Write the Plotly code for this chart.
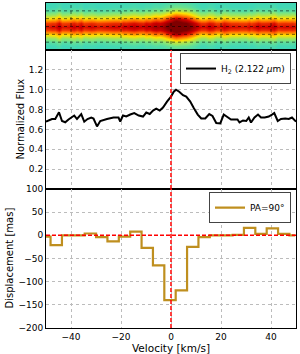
import plotly.graph_objects as go
from plotly.subplots import make_subplots

# ---- data ----
FLUX_VEL = [-50.0, -48.9, -47.6, -46.3, -44.8, -43.6, -42.3, -41.0, -39.6, -38.7, -37.6, -35.9,
            -34.7, -33.4, -31.9, -31.0, -29.6, -28.3, -25.6, -23.0, -21.0, -20.3, -19.2, -17.9,
            -16.3, -14.7, -12.9, -11.2, -9.9, -8.5, -7.2, -5.9, -4.5, -3.2, -1.6, 0.0, 1.1, 2.0,
            3.3, 4.8, 6.1, 7.7, 9.1, 10.7, 12.1, 13.7, 15.3, 16.6, 18.1, 19.7, 21.1, 22.7, 24.0,
            25.3, 26.6, 27.4, 28.8, 30.1, 31.1, 32.0, 33.4, 34.8, 36.0, 37.5, 39.1, 40.4, 41.3,
            42.7, 44.0, 45.7, 47.1, 48.4, 50.0]
FLUX = [0.678, 0.688, 0.705, 0.705, 0.773, 0.685, 0.672, 0.70, 0.73, 0.74, 0.705, 0.754,
        0.678, 0.705, 0.72, 0.71, 0.63, 0.685, 0.705, 0.72, 0.72, 0.68, 0.74, 0.73,
        0.75, 0.765, 0.74, 0.73, 0.77, 0.755, 0.79, 0.81, 0.79, 0.82, 0.88, 0.93, 0.98, 1.0,
        0.98, 0.945, 0.93, 0.88, 0.815, 0.75, 0.71, 0.71, 0.755, 0.735, 0.665, 0.66, 0.75, 0.72, 0.70,
        0.70, 0.70, 0.67, 0.69, 0.685, 0.72, 0.67, 0.72, 0.75, 0.72, 0.72, 0.73, 0.75, 0.765,
        0.685, 0.705, 0.71, 0.705, 0.72, 0.678]

DISP_VEL = [-50.45, -45.9, -41.35, -36.8, -32.25, -27.7, -23.15, -18.6, -14.05, -9.5, -4.95,
            -0.4, 4.15, 8.7, 13.25, 17.8, 22.35, 26.9, 31.45, 36.0, 40.55, 45.1, 49.65]
DISP = [-3, -21, 0, 0, 4, -4, -13, -3, 8, -27, -65, -140, -119, -25, -4, 0, 0, 1, 16, 3, 15, 3, 0]

SPATIAL = [-3.0, -2.5, -2.0, -1.5, -1.0, -0.5, 0.0, 0.5, 1.0, 1.5, 2.0, 2.5, 3.0]
CONT_PROFILE = [0.41, 0.41, 0.44, 0.53, 0.67, 0.83, 0.88, 0.83, 0.67, 0.53, 0.44, 0.41, 0.41]
LINE_PROFILE = [0.03, 0.07, 0.15, 0.24, 0.28, 0.22, 0.20, 0.22, 0.28, 0.24, 0.15, 0.07, 0.03]
FLUX_CONT_LEVEL = 0.69

X_TICKS = [-40, -20, 0, 20, 40]
FLUX_TICKS = [0.2, 0.4, 0.6, 0.8, 1.0, 1.2]
DISP_TICKS = [-200, -150, -100, -50, 0, 50, 100]
IMG_GRID_Y = [-2, -1, 0, 1, 2]

# image built from the spatial profiles and the spectrum
strength = [max(0.0, (f - FLUX_CONT_LEVEL) / (1.0 - FLUX_CONT_LEVEL)) for f in FLUX]
Z = [[c + l * s for s in strength] for c, l in zip(CONT_PROFILE, LINE_PROFILE)]

jet = [[0.0, 'rgb(0,0,127)'], [0.11, 'rgb(0,0,255)'], [0.35, 'rgb(20,205,225)'],
       [0.5, 'rgb(130,230,120)'], [0.65, 'rgb(255,225,0)'], [0.8, 'rgb(255,90,0)'],
       [0.9, 'rgb(210,0,0)'], [1.0, 'rgb(127,0,0)']]

ROW_HEIGHTS = [47, 139, 139]
fig = make_subplots(rows=3, cols=1, shared_xaxes=True, vertical_spacing=0,
                    row_heights=ROW_HEIGHTS)

fig.add_trace(go.Heatmap(x=FLUX_VEL, y=SPATIAL, z=Z, colorscale=jet, zmin=0, zmax=1,
                         zsmooth='best', showscale=False, hoverinfo='skip'), row=1, col=1)

fig.add_trace(go.Scatter(x=FLUX_VEL, y=FLUX, mode='lines', name='H<sub>2</sub> (2.122 <i>μ</i>m)',
                         line=dict(color='black', width=2), legend='legend'), row=2, col=1)

fig.add_trace(go.Scatter(x=DISP_VEL, y=DISP, mode='lines', name='PA=90°', line_shape='hvh',
                         line=dict(color='#BF8F1F', width=2.2), legend='legend2'), row=3, col=1)

axis_common = dict(showline=True, mirror=True, linecolor='black', linewidth=1,
                   ticks='', zeroline=False, automargin=False)
grid = dict(showgrid=True, gridcolor='#bcbcbc', griddash='dot', gridwidth=1)

fig.update_xaxes(range=[-50, 50], tickvals=X_TICKS, **axis_common)
fig.update_xaxes(showgrid=False, showticklabels=False, row=1, col=1)
fig.update_xaxes(showticklabels=False, **grid, row=2, col=1)
fig.update_xaxes(showticklabels=True, **grid, row=3, col=1,
                 ticktext=['\u221240', '\u221220', '0', '20', '40'],
                 tickfont=dict(size=9), title=dict(text='Velocity [km/s]', font=dict(size=10.5), standoff=0))

fig.update_yaxes(range=[-3, 3], showticklabels=False, showgrid=False, **axis_common, row=1, col=1)
fig.update_yaxes(range=[0, 1.4], tickvals=FLUX_TICKS, ticktext=['0.2', '0.4', '0.6', '0.8', '1.0', '1.2'],
                 tickfont=dict(size=9), **grid, **axis_common, row=2, col=1)
fig.update_yaxes(range=[-200, 100], tickvals=DISP_TICKS,
                 ticktext=['\u2212200', '\u2212150', '\u2212100', '\u221250', '0', '50', '100'],
                 tickfont=dict(size=9), **grid, **axis_common, row=3, col=1)

shapes = []
for xv in X_TICKS:
    shapes.append(dict(type='line', xref='x', yref='y domain', x0=xv, x1=xv, y0=0, y1=1,
                       line=dict(color='rgba(0,0,0,0.55)', width=1, dash='dot'), layer='above'))
for yv in IMG_GRID_Y:
    shapes.append(dict(type='line', xref='x domain', yref='y', x0=0, x1=1, y0=yv, y1=yv,
                       line=dict(color='rgba(0,0,0,0.55)', width=1, dash='dot'), layer='above'))
red = dict(color='red', width=1.5, dash='4px,2px')
shapes.append(dict(type='line', xref='x2', yref='y2 domain', x0=0, x1=0, y0=0, y1=1, line=red, layer='above'))
shapes.append(dict(type='line', xref='x3', yref='y3 domain', x0=0, x1=0, y0=0, y1=1, line=red, layer='above'))
shapes.append(dict(type='line', xref='x3 domain', yref='y3', x0=0, x1=1, y0=0, y1=0, line=red, layer='above'))

annotations = [
    dict(text='Normalized Flux', xref='x2 domain', yref='y2 domain', x=0, y=0.5,
         xanchor='center', yanchor='middle', xshift=-26, textangle=-90, showarrow=False,
         font=dict(size=10)),
    dict(text='Displacement [mas]', xref='x3 domain', yref='y3 domain', x=0, y=0.5,
         xanchor='center', yanchor='middle', xshift=-37, textangle=-90, showarrow=False,
         font=dict(size=10)),
]

fig.update_layout(
    width=300, height=354,
    margin=dict(l=46, r=4, t=3, b=26, autoexpand=False),
    paper_bgcolor='white', plot_bgcolor='white',
    font=dict(family='DejaVu Sans', color='black', size=9),
    shapes=shapes, annotations=annotations,
    legend=dict(x=0.98, xanchor='right', y=0.846, yanchor='top', bgcolor='white',
                bordercolor='#444', borderwidth=1, font=dict(size=9), itemwidth=30),
    legend2=dict(x=0.98, xanchor='right', y=0.418, yanchor='top', bgcolor='white',
                 bordercolor='#444', borderwidth=1, font=dict(size=9), itemwidth=30),
    showlegend=True,
)

fig.write_html("out.html", config={'displayModeBar': False},
               post_script="document.body.style.margin='0';document.body.style.overflow='hidden';")
